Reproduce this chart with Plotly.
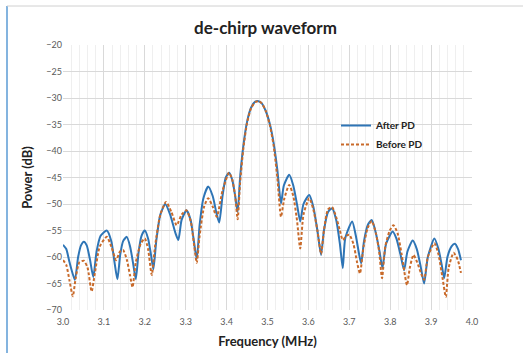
import plotly.graph_objects as go

# After PD (blue, solid)
after_f = [3.000, 3.008, 3.016, 3.029, 3.037, 3.044, 3.051, 3.058, 3.066, 3.074, 3.082, 3.092, 3.107,
           3.118, 3.126, 3.133, 3.140, 3.147, 3.156, 3.164, 3.171, 3.178, 3.185, 3.192, 3.200, 3.208,
           3.215, 3.221, 3.228, 3.238, 3.250, 3.262, 3.275, 3.282, 3.290, 3.302, 3.312, 3.320, 3.327,
           3.334, 3.343, 3.355, 3.366, 3.376, 3.382, 3.390, 3.398, 3.406, 3.414, 3.421, 3.427, 3.433,
           3.441, 3.450, 3.460, 3.470, 3.478, 3.486, 3.496, 3.506, 3.515, 3.524, 3.533, 3.540, 3.553,
           3.563, 3.572, 3.580, 3.588, 3.602, 3.612, 3.622, 3.631, 3.638, 3.648, 3.658, 3.668, 3.677,
           3.684, 3.690, 3.707, 3.716, 3.724, 3.729, 3.736, 3.745, 3.755, 3.765, 3.774, 3.781, 3.790,
           3.806, 3.815, 3.825, 3.834, 3.842, 3.855, 3.865, 3.875, 3.883, 3.892, 3.908, 3.918, 3.926,
           3.932, 3.940, 3.950, 3.958, 3.966, 3.973]
after_db = [-57.7, -58.5, -61.0, -64.3, -60.0, -57.8, -57.1, -57.8, -60.5, -63.8, -59.0, -56.0, -55.0,
            -57.0, -61.0, -64.2, -59.5, -57.0, -56.2, -58.0, -61.0, -64.2, -59.0, -56.0, -55.0, -56.5,
            -59.5, -62.3, -57.0, -52.0, -50.0, -52.0, -55.5, -56.8, -53.0, -51.2, -53.0, -57.0, -60.4,
            -54.0, -49.0, -46.7, -48.5, -52.0, -53.5, -48.5, -45.0, -44.1, -45.5, -48.5, -51.5, -45.0,
            -39.0, -34.5, -31.8, -30.7, -30.6, -31.0, -32.5, -35.0, -38.5, -43.5, -49.9, -46.5, -44.5,
            -46.5, -50.0, -53.3, -50.0, -48.3, -50.5, -55.0, -59.6, -55.0, -51.5, -50.8, -53.0, -57.5,
            -62.1, -56.5, -53.3, -56.0, -59.5, -61.2, -57.0, -54.0, -53.0, -55.5, -59.0, -62.1, -57.5,
            -55.2, -56.5, -59.5, -62.5, -59.0, -56.9, -58.5, -62.0, -65.0, -60.0, -56.5, -58.5, -61.5,
            -64.0, -60.0, -58.0, -57.5, -58.5, -60.6]

# Before PD (orange, dashed)
before_f = [3.000, 3.008, 3.016, 3.024, 3.031, 3.040, 3.051, 3.060, 3.070, 3.078, 3.090, 3.107, 3.118,
            3.130, 3.139, 3.147, 3.156, 3.164, 3.170, 3.178, 3.190, 3.200, 3.208, 3.217, 3.225, 3.238,
            3.252, 3.265, 3.278, 3.290, 3.302, 3.313, 3.321, 3.327, 3.334, 3.345, 3.355, 3.366, 3.376,
            3.390, 3.406, 3.414, 3.421, 3.427, 3.433, 3.441, 3.450, 3.460, 3.470, 3.478, 3.486, 3.496,
            3.506, 3.515, 3.524, 3.533, 3.541, 3.553, 3.563, 3.572, 3.580, 3.588, 3.602, 3.612, 3.622,
            3.631, 3.638, 3.648, 3.658, 3.668, 3.677, 3.684, 3.693, 3.700, 3.710, 3.719, 3.726, 3.735,
            3.745, 3.755, 3.765, 3.773, 3.780, 3.788, 3.799, 3.808, 3.818, 3.828, 3.841, 3.848, 3.857,
            3.866, 3.875, 3.883, 3.892, 3.908, 3.918, 3.928, 3.936, 3.943, 3.955, 3.965, 3.973]
before_db = [-60.6, -61.5, -64.5, -67.4, -64.0, -61.0, -60.7, -62.0, -66.5, -63.0, -58.0, -56.2, -58.0,
             -60.6, -59.0, -58.7, -60.5, -63.5, -65.7, -61.0, -57.5, -56.5, -58.5, -63.4, -58.0, -52.0,
             -49.6, -51.5, -54.0, -52.0, -51.2, -53.5, -58.0, -61.1, -56.0, -50.5, -48.9, -50.5, -52.4,
             -47.5, -44.1, -45.5, -48.5, -52.9, -46.0, -39.5, -34.7, -31.9, -30.8, -30.6, -31.0, -32.5,
             -35.2, -39.0, -45.0, -52.4, -49.0, -46.4, -48.5, -53.0, -58.4, -52.0, -48.9, -51.0, -55.0,
             -59.4, -55.0, -51.0, -50.6, -52.5, -55.0, -56.8, -56.0, -55.8, -57.5, -61.0, -63.1, -58.0,
             -54.5, -53.2, -55.5, -59.0, -64.0, -58.0, -55.0, -54.0, -55.5, -59.5, -65.3, -62.0, -59.6,
             -61.0, -63.0, -64.3, -60.0, -57.4, -59.5, -64.0, -67.5, -62.0, -59.2, -60.5, -63.0]

x_ticks = [3.0, 3.1, 3.2, 3.3, 3.4, 3.5, 3.6, 3.7, 3.8, 3.9, 4.0]
y_ticks = [-20, -25, -30, -35, -40, -45, -50, -55, -60, -65, -70]

W, H = 523, 353
ML, MR, MT, MB = 63, 51, 45, 43
pw, ph = W - ML - MR, H - MT - MB

def px_to_paper_x(px):
    return (px - ML) / pw

def px_to_paper_y(py):
    return (H - MB - py) / ph

font_family = "Lato, 'Open Sans', sans-serif"

fig = go.Figure()
fig.add_trace(go.Scatter(x=after_f, y=after_db, name="<b>After PD</b>", mode="lines",
                         line=dict(color="#2E75B6", width=2, shape="spline", smoothing=0.6)))
fig.add_trace(go.Scatter(x=before_f, y=before_db, name="<b>Before PD</b>", mode="lines",
                         line=dict(color="#C96A2A", width=2, dash="3px,2px", shape="spline", smoothing=0.6)))

fig.update_layout(
    width=W, height=H,
    margin=dict(l=ML, r=MR, t=MT, b=MB, autoexpand=False),
    paper_bgcolor="white", plot_bgcolor="white",
    font=dict(family=font_family, color="#404040"),
    title=dict(text="<b>de-chirp waveform</b>", x=(ML + pw / 2 - 2) / W, xanchor="center",
               y=1 - 28 / H, yanchor="middle", font=dict(size=17, color="#222222")),
    legend=dict(x=px_to_paper_x(336), y=px_to_paper_y(111), xanchor="left", yanchor="top",
                bgcolor="rgba(0,0,0,0)", font=dict(size=10, color="#222222"),
                itemwidth=30, tracegroupgap=0),
    showlegend=True,
)

fig.update_xaxes(range=[3.0, 4.0], tickvals=x_ticks, tickformat=".1f",
                 showgrid=True, gridcolor="#D9D9D9", gridwidth=1,
                 minor=dict(dtick=0.02, showgrid=True, gridcolor="#EFEFEF", gridwidth=1),
                 showline=False, zeroline=False, ticks="", ticklabelstandoff=5,
                 tickfont=dict(size=9, color="#595959"), automargin=False,
                 title=dict(text="<b>Frequency (MHz)</b>", font=dict(size=13, color="#222222"), standoff=10))
fig.update_yaxes(range=[-70, -20], tickvals=y_ticks,
                 showgrid=True, gridcolor="#D9D9D9", gridwidth=1,
                 showline=False, zeroline=False, ticks="",
                 tickfont=dict(size=9, color="#595959"), automargin=False,
                 title=dict(text="<b>Power (dB)</b>", font=dict(size=13, color="#222222"), standoff=10))

# outer frame (left blue edge, top light edge)
fig.add_shape(type="line", xref="paper", yref="paper",
              x0=px_to_paper_x(7), x1=px_to_paper_x(7), y0=px_to_paper_y(6), y1=px_to_paper_y(H + 2),
              line=dict(color="#5B9BD5", width=1.5))
fig.add_shape(type="line", xref="paper", yref="paper",
              x0=px_to_paper_x(7), x1=px_to_paper_x(W + 2), y0=px_to_paper_y(6), y1=px_to_paper_y(6),
              line=dict(color="#D0D0D0", width=1))

fig.write_html("out.html", config={"displayModeBar": False},
               post_script="document.body.style.margin='0';document.body.style.overflow='hidden';")
